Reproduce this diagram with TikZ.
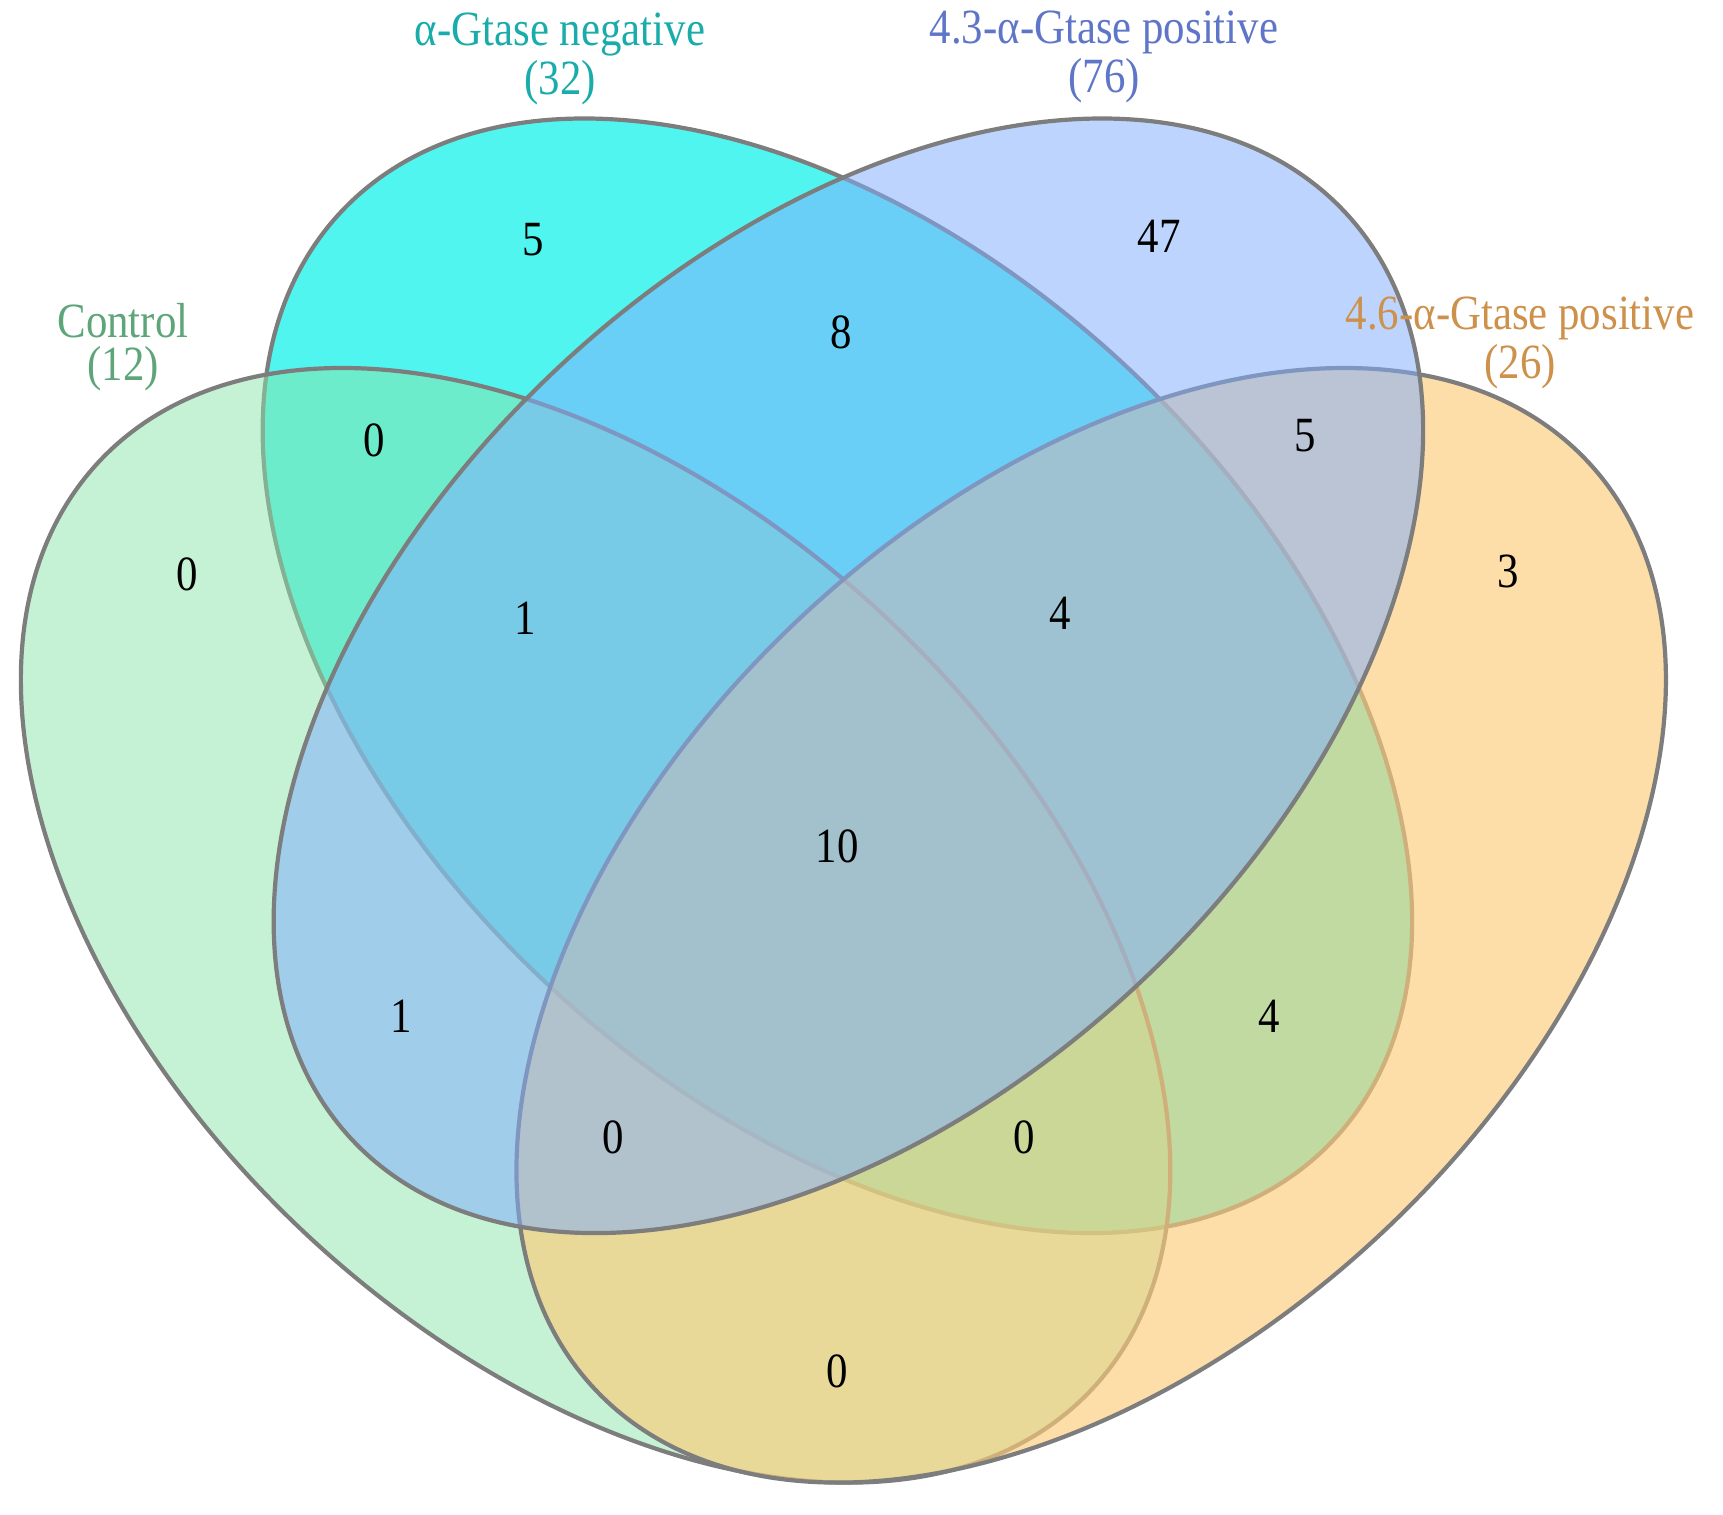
\documentclass[tikz,border=0pt]{standalone}
\usepackage{fontspec}
\setmainfont{Liberation Serif}[FakeStretch=0.87]
\usepackage{tikz}

\definecolor{setcyan}{RGB}{5,241,234}
\definecolor{setgreen}{RGB}{139,229,169}
\definecolor{setorange}{RGB}{253,204,121}
\definecolor{setblue}{RGB}{128,174,253}
\definecolor{edgegray}{RGB}{125,125,125}
\definecolor{txtgreen}{RGB}{95,165,122}
\definecolor{txtcyan}{RGB}{25,172,170}
\definecolor{txtblue}{RGB}{95,118,200}
\definecolor{txtorange}{RGB}{205,145,75}

\tikzset{
  setshape/.style={draw=edgegray, line width=0.042cm},
  count/.style={font=\fontsize{14}{14}\selectfont, inner sep=0pt},
  setlabel/.style={align=center, font=\fontsize{14}{12.2}\selectfont, inner sep=0pt},
}

\begin{document}
\begin{tikzpicture}[x=0.01cm, y=0.01cm]
\useasboundingbox (0,0) rectangle (1723,1514);

% the four sets
\filldraw[setshape, fill=setcyan, fill opacity=0.7] (837.4,838.2) ellipse [x radius=6.79cm, y radius=4.23cm, rotate=-43];
\filldraw[setshape, fill=setgreen, fill opacity=0.5] (595.6,588.7) ellipse [x radius=6.79cm, y radius=4.23cm, rotate=-43];
\filldraw[setshape, fill=setorange, fill opacity=0.65] (1091.2,588.7) ellipse [x radius=6.79cm, y radius=4.23cm, rotate=43];
\filldraw[setshape, fill=setblue, fill opacity=0.53] (848.4,838.2) ellipse [x radius=6.79cm, y radius=4.23cm, rotate=43];

% set names
\node[setlabel, text=txtcyan] (negLab) at (560,1455) {α-Gtase negative\\(32)};
\node[setlabel, text=txtblue] (posA) at (1104,1457) {4.3-α-Gtase positive\\(76)};
\node[setlabel, text=txtgreen] (ctrlLab) at (123,1167) {Control\\(12)};
\node[setlabel, text=txtorange] (posB) at (1520,1171) {4.6-α-Gtase positive\\(26)};

% counts
\node[count] (nC) at (533,1274) {5};
\node[count] (nB) at (1159,1278) {47};
\node[count] (nCB) at (841,1182) {8};
\node[count] (nGC) at (374,1074) {0};
\node[count] (nBO) at (1305,1078) {5};
\node[count] (nG) at (187,940) {0};
\node[count] (nO) at (1508,943) {3};
\node[count] (nGCB) at (525,896) {1};
\node[count] (nCBO) at (1060,901) {4};
\node[count] (nAll) at (837,668) {10};
\node[count] (nGB) at (401,498) {1};
\node[count] (nCO) at (1269,498) {4};
\node[count] (nGBO) at (613,377) {0};
\node[count] (nGCO) at (1024,377) {0};
\node[count] (nGO) at (837,143) {0};
\end{tikzpicture}
\end{document}
